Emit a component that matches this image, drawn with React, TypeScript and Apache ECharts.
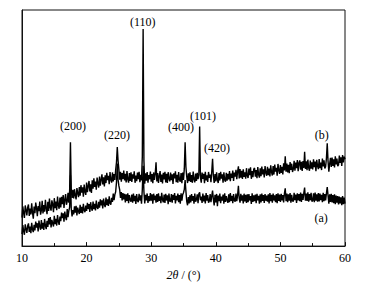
import React, { useEffect, useRef } from "react";
import * as echarts from "echarts";

// 2θ sampling grid (degrees), 10 → 60 in 0.125° steps
const twoTheta: number[] = Array.from({ length: 401 }, (_, i) => 10 + i * 0.125);

// Pattern (b) – upper trace (arbitrary intensity units), one row per degree
const intensityB: number[] = [
  12.1, 16.8, 14.0, 11.9, 17.2, 15.3, 13.0, 16.4,
  17.6, 12.8, 15.9, 13.4, 18.1, 14.2, 11.6, 16.7,
  13.9, 18.4, 16.2, 12.7, 17.0, 14.8, 18.9, 13.3,
  15.1, 19.2, 13.8, 17.4, 14.6, 19.6, 16.0, 13.5,
  18.8, 14.9, 20.1, 16.3, 15.0, 19.4, 17.7, 14.4,
  20.3, 16.1, 18.9, 15.2, 21.0, 17.3, 15.8, 20.6,
  16.4, 20.9, 17.8, 21.6, 16.2, 19.7, 22.0, 17.5,
  19.0, 22.6, 18.4, 23.5, 44.0, 24.0, 20.4, 23.8,
  20.2, 24.1, 21.5, 19.8, 24.6, 22.3, 20.7, 25.0,
  21.4, 25.8, 22.6, 24.9, 20.9, 26.1, 23.0, 21.7,
  26.9, 22.8, 25.4, 27.6, 23.1, 26.2, 22.5, 27.9,
  24.3, 28.7, 25.1, 27.3, 23.9, 29.0, 26.6, 24.8,
  29.5, 25.6, 28.2, 30.4, 26.1, 29.1, 25.3, 30.0,
  26.7, 31.0, 27.9, 29.8, 26.2, 31.4, 28.1, 26.9,
  31.2, 27.4, 30.5, 28.0, 32.3, 35.5, 42.0, 36.0,
  32.4, 28.1, 31.5, 27.3, 30.9, 28.4, 32.0, 27.8,
  30.6, 27.0, 31.8, 28.3, 26.9, 30.9, 27.6, 31.3,
  27.2, 30.4, 28.6, 31.7, 26.8, 29.9, 27.5, 31.1,
  28.4, 31.5, 27.1, 30.2, 27.8, 38.0, 92.0, 36.0,
  26.4, 30.8, 27.7, 31.4, 26.9, 30.1, 28.3, 31.6,
  27.3, 30.5, 26.6, 31.2, 28.0, 30.7, 35.5, 27.4,
  30.9, 26.8, 29.6, 31.8, 27.2, 30.3, 26.5, 31.0,
  28.2, 31.5, 27.0, 30.6, 26.7, 31.3, 28.6, 27.4,
  31.1, 27.9, 30.4, 26.3, 30.8, 28.7, 31.7, 27.1,
  30.2, 26.9, 31.4, 28.1, 27.3, 30.9, 26.6, 31.2,
  28.0, 32.8, 44.0, 33.5, 29.4, 26.7, 30.8, 27.5,
  31.3, 27.2, 30.1, 26.8, 31.6, 28.3, 27.0, 30.7,
  27.6, 31.0, 28.4, 30.2, 50.7, 29.0, 26.9, 31.1,
  28.5, 30.6, 26.6, 31.5, 27.8, 30.0, 27.2, 31.4,
  28.9, 30.3, 27.1, 31.6, 37.0, 29.6, 26.8, 30.5,
  27.4, 31.2, 28.1, 26.7, 30.9, 27.8, 31.5, 28.6,
  30.4, 26.9, 31.3, 28.0, 27.3, 31.0, 27.7, 30.6,
  28.2, 31.8, 27.5, 30.7, 28.9, 32.0, 27.6, 31.1,
  29.4, 32.3, 28.3, 31.6, 33.8, 28.7, 32.6, 29.0,
  31.9, 28.4, 32.5, 29.3, 31.2, 28.6, 33.0, 29.7,
  28.9, 32.8, 30.0, 33.4, 28.5, 31.8, 29.2, 32.6,
  33.1, 29.4, 32.2, 28.8, 33.5, 30.3, 29.0, 32.9,
  29.6, 33.7, 30.4, 32.5, 29.1, 33.9, 31.0, 29.8,
  33.6, 30.0, 32.8, 29.5, 34.2, 31.3, 29.9, 33.9,
  30.3, 34.5, 31.6, 33.2, 29.8, 34.8, 32.1, 30.6,
  34.3, 31.0, 33.6, 30.4, 35.1, 32.0, 38.0, 31.5,
  35.0, 31.2, 34.4, 30.9, 35.6, 32.3, 34.9, 31.4,
  32.6, 36.1, 31.9, 35.4, 33.0, 36.4, 31.7, 35.2,
  36.3, 32.4, 35.7, 31.8, 36.0, 33.1, 40.0, 32.7,
  35.9, 32.1, 36.6, 33.2, 31.9, 36.2, 32.8, 35.5,
  32.5, 36.8, 33.4, 35.8, 31.7, 36.5, 34.0, 32.6,
  36.9, 33.0, 35.4, 32.2, 37.1, 33.8, 36.3, 32.9,
  33.6, 37.2, 43.5, 36.0, 31.5, 34.8, 37.4, 33.5,
  37.5, 34.0, 36.8, 33.3, 38.0, 34.6, 37.1, 33.9,
  34.4, 38.3, 35.2, 37.6, 34.0, 38.6, 35.5, 37.9,
  36.8,
];

// Pattern (a) – lower trace, one row per degree
const intensityA: number[] = [
  5.1, 8.9, 6.4, 4.8, 9.2, 7.3, 5.6, 8.5,
  9.6, 6.0, 8.3, 5.5, 9.9, 7.1, 5.9, 9.0,
  6.6, 10.4, 7.8, 9.7, 6.2, 10.8, 8.4, 6.9,
  11.0, 7.4, 9.9, 6.8, 11.5, 8.6, 7.2, 10.7,
  8.1, 11.9, 9.2, 12.3, 7.9, 11.1, 9.6, 8.3,
  12.8, 9.3, 11.6, 8.7, 13.1, 10.4, 9.0, 12.5,
  10.6, 14.2, 11.8, 13.9, 10.3, 14.6, 12.2, 11.0,
  15.7, 12.3, 14.9, 16.5, 30.0, 15.8, 12.6, 15.2,
  13.4, 16.8, 14.2, 17.1, 13.0, 16.3, 14.7, 13.6,
  17.5, 14.1, 16.6, 13.8, 17.9, 15.2, 14.4, 17.2,
  14.9, 18.3, 15.7, 17.8, 14.5, 18.6, 16.1, 15.0,
  18.9, 15.6, 17.9, 15.1, 19.3, 16.4, 15.8, 18.7,
  16.3, 19.8, 17.2, 19.4, 16.0, 20.1, 17.6, 16.5,
  20.6, 17.3, 19.8, 17.0, 21.1, 18.2, 17.5, 20.4,
  18.7, 22.2, 19.5, 21.8, 23.0, 27.0, 35.0, 28.0,
  25.5, 23.8, 20.4, 22.9, 19.3, 22.5, 19.8, 22.1,
  18.5, 21.9, 19.1, 22.4, 18.2, 21.6, 19.6, 18.8,
  21.8, 18.4, 22.2, 19.0, 21.3, 17.9, 22.0, 19.2,
  18.6, 22.1, 19.3, 21.5, 18.0, 24.0, 34.0, 23.0,
  18.1, 21.7, 19.4, 22.3, 18.3, 21.2, 19.0, 22.5,
  19.2, 21.9, 18.0, 22.2, 19.5, 21.4, 18.4, 22.0,
  18.7, 22.4, 19.1, 21.1, 18.2, 22.6, 19.7, 18.5,
  21.8, 18.3, 22.1, 19.3, 21.5, 17.8, 22.3, 19.0,
  18.9, 22.0, 18.4, 21.7, 19.6, 22.5, 18.1, 21.3,
  19.4, 22.2, 18.6, 21.6, 18.0, 22.4, 19.2, 21.8,
  22.6, 24.0, 28.0, 23.2, 19.0, 17.3, 20.8, 18.1,
  21.5, 18.5, 22.0, 19.2, 21.2, 18.0, 22.3, 18.8,
  19.7, 21.9, 18.2, 22.1, 22.8, 19.4, 21.0, 18.3,
  22.2, 18.9, 21.4, 18.1, 22.5, 19.3, 21.6, 18.4,
  19.1, 22.0, 18.6, 21.3, 23.5, 19.8, 17.2, 21.7,
  18.5, 22.1, 16.9, 21.4, 19.0, 22.3, 18.2, 21.0,
  19.3, 21.8, 18.0, 22.4, 18.7, 21.2, 19.5, 18.3,
  21.9, 18.6, 22.5, 19.1, 21.3, 18.2, 22.0, 19.4,
  18.8, 22.3, 19.0, 21.6, 25.5, 20.2, 18.4, 22.1,
  19.2, 21.5, 18.1, 22.2, 18.9, 21.7, 18.3, 21.9,
  18.6, 22.0, 19.3, 21.2, 17.9, 22.4, 18.7, 21.5,
  19.0, 21.8, 18.2, 22.1, 19.4, 21.3, 18.0, 21.9,
  18.5, 22.3, 19.1, 21.6, 18.3, 22.0, 19.2, 21.4,
  18.8, 21.9, 18.1, 22.5, 19.0, 21.7, 18.4, 22.2,
  19.3, 21.5, 18.6, 22.0, 18.2, 22.4, 19.1, 21.8,
  18.7, 22.1, 19.4, 21.6, 18.5, 22.3, 24.5, 19.0,
  22.2, 18.6, 21.9, 19.2, 22.5, 18.4, 21.7, 19.1,
  18.9, 22.6, 19.5, 21.8, 18.3, 22.4, 19.3, 22.0,
  19.0, 22.7, 18.7, 22.1, 19.6, 22.5, 24.8, 19.2,
  22.3, 19.1, 22.8, 18.8, 22.0, 19.4, 22.6, 18.9,
  19.3, 22.4, 18.6, 22.7, 19.2, 21.9, 18.8, 22.5,
  18.9, 22.2, 19.5, 21.7, 18.6, 22.6, 19.0, 22.0,
  19.4, 22.3, 25.0, 21.5, 18.0, 21.9, 18.7, 22.1,
  18.5, 21.6, 18.2, 21.9, 17.8, 21.4, 18.4, 21.2,
  17.6, 21.0, 18.1, 20.7, 17.3, 21.2, 17.8, 20.5,
  18.0,
];

// Peak / curve annotations: text, 2θ, intensity
const annotationText: string[] = ["(200)", "(220)", "(110)", "(400)", "(101)", "(420)", "(b)", "(a)"];
const annotationX: number[] = [17.9, 24.7, 28.7, 34.6, 38.0, 40.2, 56.4, 56.3];
const annotationY: number[] = [51.0, 46.9, 95.0, 50.6, 55.2, 41.4, 46.9, 11.7];

const xTicks: number[] = [10, 20, 30, 40, 50, 60];

export default function App() {
  const ref = useRef<HTMLDivElement>(null);

  useEffect(() => {
    if (!ref.current) return;
    const chart = echarts.init(ref.current, null, { renderer: "svg" });
    const font = "'Liberation Serif', 'Times New Roman', serif";
    chart.setOption({
      animation: false,
      backgroundColor: "#ffffff",
      grid: {
        left: 22,
        right: 38,
        top: 10,
        bottom: 37,
        show: true,
        borderColor: "#111",
        borderWidth: 1,
        backgroundColor: "transparent",
      },
      xAxis: {
        type: "value",
        min: xTicks[0],
        max: xTicks[xTicks.length - 1],
        interval: 10,
        axisLine: { show: true, lineStyle: { color: "#111", width: 1 } },
        axisTick: { show: true, inside: true, length: 4, lineStyle: { color: "#111" } },
        minorTick: { show: true, splitNumber: 2, length: 3, lineStyle: { color: "#111" } },
        splitLine: { show: false },
        axisLabel: { color: "#000", fontFamily: font, fontSize: 12, margin: 6 },
        name: "{i|2θ} / (°)",
        nameLocation: "middle",
        nameGap: 21,
        nameTextStyle: {
          color: "#000",
          fontFamily: font,
          fontSize: 12,
          rich: { i: { fontStyle: "italic", fontFamily: font, fontSize: 12, color: "#000" } },
        },
      },
      yAxis: {
        type: "value",
        min: 0,
        max: 100,
        axisLine: { show: true, lineStyle: { color: "#111", width: 1 } },
        axisTick: { show: false },
        axisLabel: { show: false },
        splitLine: { show: false },
      },
      series: [
        {
          type: "line",
          name: "(a)",
          data: twoTheta.map((t, i) => [t, intensityA[i]]),
          showSymbol: false,
          symbol: "none",
          lineStyle: { color: "#000", width: 1.4 },
        },
        {
          type: "line",
          name: "(b)",
          data: twoTheta.map((t, i) => [t, intensityB[i]]),
          showSymbol: false,
          symbol: "none",
          lineStyle: { color: "#000", width: 1.4 },
        },
      ],
    });

    // Place the annotation texts at their data coordinates
    const texts = annotationText.map((s, i) => {
      const p = chart.convertToPixel({ gridIndex: 0 }, [annotationX[i], annotationY[i]]) as number[];
      return {
        type: "text",
        x: p[0],
        y: p[1],
        silent: true,
        style: {
          text: s,
          fill: "#000",
          font: `12px ${font}`,
          align: "center",
          verticalAlign: "middle",
        },
      };
    });
    chart.setOption({ graphic: texts });

    return () => chart.dispose();
  }, []);

  return <div ref={ref} style={{ width: 383, height: 286, position: "absolute", left: 0, top: 0 }} />;
}
